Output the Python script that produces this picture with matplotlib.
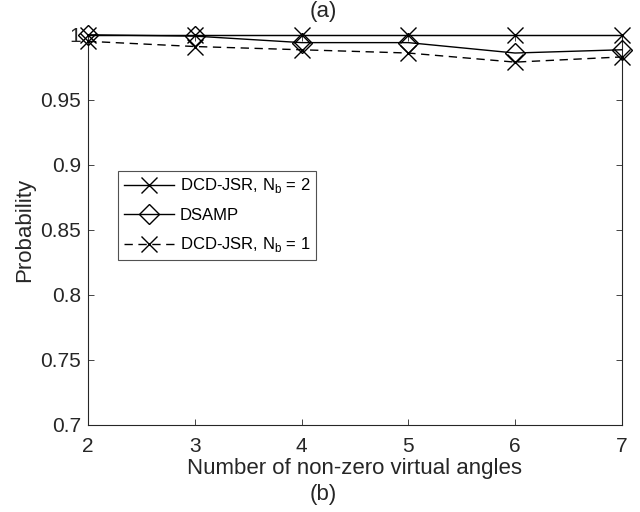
import matplotlib.pyplot as plt

plt.rcParams["font.family"] = ["Liberation Sans", "DejaVu Sans"]

# Number of non-zero virtual angles
n_angles = [2, 3, 4, 5, 6, 7]

# Success probability for each method
p_dcd_nb2 = [1.0, 1.0, 1.0, 1.0, 1.0, 1.0]
p_dsamp = [1.0, 0.999, 0.994, 0.994, 0.986, 0.9885]
p_dcd_nb1 = [0.995, 0.991, 0.9885, 0.986, 0.979, 0.983]

fig = plt.figure(figsize=(6.4, 5.12), dpi=100)
ax = fig.add_axes([0.1375, 0.17, 0.834, 0.762])

ax.plot(n_angles, p_dcd_nb2, color="black", lw=1.0, marker="x",
        markersize=11, markeredgewidth=1.0, label=r"DCD-JSR, N$_\mathregular{b}$ = 2",
        clip_on=False, zorder=4)
ax.plot(n_angles, p_dsamp, color="black", lw=1.0, marker="D",
        markersize=10, markerfacecolor="none", markeredgewidth=1.0,
        label="DSAMP", clip_on=False, zorder=3)
ax.plot(n_angles, p_dcd_nb1, color="black", lw=1.0, ls=(0, (6, 4)), marker="x",
        markersize=11, markeredgewidth=1.0, label=r"DCD-JSR, N$_\mathregular{b}$ = 1",
        clip_on=False, zorder=3)

ax.set_xlim(2, 7)
ax.set_ylim(0.7, 1.0)
ax.set_xticks(n_angles)
ax.set_yticks([0.7, 0.75, 0.8, 0.85, 0.9, 0.95, 1.0])
ax.set_yticklabels(["0.7", "0.75", "0.8", "0.85", "0.9", "0.95", "1"])

ax.tick_params(direction="in", length=4, width=0.6, colors="#262626",
               labelsize=15, top=True, right=True, pad=5)
ax.tick_params(axis="x", pad=9)
for sp in ax.spines.values():
    sp.set_color("#262626")
    sp.set_linewidth(0.8)

ax.set_xlabel("Number of non-zero virtual angles", fontsize=16,
              color="#262626", labelpad=1)
ax.set_ylabel("Probability", fontsize=16, color="#262626", labelpad=4)

leg = ax.legend(loc="upper left", bbox_to_anchor=(0.056, 0.652), fontsize=12,
                frameon=True, fancybox=False, edgecolor="#262626",
                borderpad=0.35, labelspacing=0.75, handlelength=3.0,
                handletextpad=0.35, borderaxespad=0)
leg.get_frame().set_linewidth(0.8)

fig.text(0.505, 0.978, "(a)", ha="center", va="center", fontsize=16,
         color="#262626")
fig.text(0.505, 0.035, "(b)", ha="center", va="center", fontsize=16,
         color="#262626")

fig.savefig("out.png", dpi=100)
